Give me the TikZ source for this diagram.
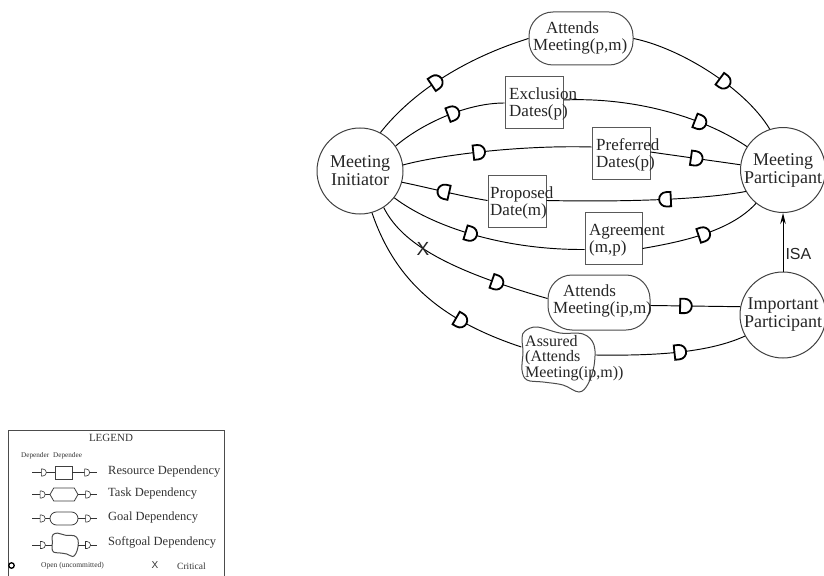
\documentclass[tikz,border=0pt]{standalone}
\usepackage{fontspec}
\setmainfont{Liberation Serif}
\newfontfamily\sansf{Liberation Sans}
\usetikzlibrary{calc,decorations.markings,arrows.meta,shapes.symbols}
\newcommand\Dmk{\draw[line width=1.8bp, fill=white, draw=black] (-4.5,-7.2) -- (-4.5,7.2) -- (0,7.2) arc[start angle=90,end angle=-90,radius=7.2] -- cycle;}
\newcommand\Dsm{\draw[line width=0.6bp, fill=white, draw=black!80] (-1.5,-3.5) -- (-1.5,3.5) -- (0,3.5) arc[start angle=90,end angle=-90,radius=3.5] -- cycle;}
\tikzset{
  conn/.style={line width=0.95bp, draw=black},
  dep/.style={conn, postaction={decorate}, decoration={markings, mark=at position #1 with {\Dmk}}},
  ldep/.style={line width=0.7bp, draw=black!80, postaction={decorate}, decoration={markings, mark=at position #1 with {\Dsm}}},
  actor/.style={circle, draw=black!75, line width=1bp, minimum size=86bp, inner sep=0pt, align=center, text=black!85, font=\fontsize{18bp}{18bp}\selectfont},
  res/.style={rectangle, draw=black!65, line width=1bp, minimum width=58bp, minimum height=52bp, inner sep=0pt},
  goal/.style={rectangle, rounded corners=24bp, draw=black!70, line width=1bp, inner sep=0pt},
  dtxt/.style={align=left, inner sep=0pt, text=black!85, font=\fontsize{17bp}{17bp}\selectfont},
  xtxt/.style={inner sep=0pt, text=black!85, font=\sansf\fontsize{19bp}{19bp}\selectfont},
  ltxt/.style={inner sep=0pt, anchor=west, text=black!80, font=\fontsize{12.5bp}{12.5bp}\selectfont},
  lsmall/.style={inner sep=0pt, text=black!80, font=\fontsize{7.2bp}{7.2bp}\selectfont},
  lshape/.style={draw=black!75, line width=0.8bp, inner sep=0pt},
  softg/.pic={\draw[line width=1bp, draw=black!70, fill=white] plot[smooth cycle, tension=0.6] coordinates {(-33,-29) (-21,-33) (2,-27) (25,-26) (36,-15) (36,6) (30,24) (21,32) (5,25) (-15,22) (-31,20) (-36,10) (-35,-8) (-36,-22)};},
}
\begin{document}
\begin{tikzpicture}[x=1bp,y=-1bp]
\fill[white] (0,0) rectangle (824,576);
\useasboundingbox (0,0) rectangle (824,576);

% actors
\node[actor] (mi) at (360,171) {Meeting\\Initiator};
\node[actor, minimum size=84bp] (mp) at (783,170) {Meeting\\Participant};
\node[actor] (ip) at (783,315) {Important\\Participant};

% dependums
\node[goal, minimum width=104bp, minimum height=53bp] (g1) at (581,38.5) {};
\node[dtxt, anchor=west] (g1T) at (533,37.5) {\hspace*{13bp}Attends\\Meeting(p,m)};
\node[res] (excl) at (534,103) {};
\node[dtxt, anchor=west] (exclT) at (509,103.5) {Exclusion\\Dates(p)};
\node[res] (pref) at (621,154) {};
\node[dtxt, anchor=west] (prefT) at (596,154.5) {Preferred\\Dates(p)};
\node[res, minimum height=51bp] (prop) at (517,201.5) {};
\node[dtxt, anchor=west] (propT) at (490,203) {Proposed\\Date(m)};
\node[res, minimum width=57bp, minimum height=51bp] (agr) at (613.5,238.5) {};
\node[dtxt, anchor=west] (agrT) at (589,240) {Agreement\\(m,p)};
\node[goal, minimum width=102bp, minimum height=55bp] (g2) at (599,302.5) {};
\node[dtxt, anchor=west] (g2T) at (553,300.5) {\hspace*{10bp}Attends\\Meeting(ip,m)};
\pic at (558,360) {softg};
\node[minimum width=73bp, minimum height=66bp, inner sep=0pt] (sg) at (558,360) {};
\node[dtxt, anchor=west, font=\fontsize{16bp}{15.5bp}\selectfont] (sgT) at (525,358) {Assured\\(Attends\\Meeting(ip,m))};

% connectors
\draw[dep=0.42] (mi.62) .. controls (410,95) and (460,60) .. (g1.west);
\draw[dep=0.6] (g1.east) .. controls (680,48) and (745,88) .. (mp.108);
\draw[dep=0.55] (mi.35) .. controls (420,125) and (465,103) .. (excl.west);
\draw[dep=0.72] ($(excl.east)+(0,-3)$) .. controls (630,97) and (700,115) .. (mp.147);
\draw[dep=0.4] (mi.8) .. controls (440,155) and (520,145) .. ($(pref.west)+(0,-7)$);
\draw[dep=0.5] ($(pref.east)+(0,-2)$) -- (mp.173);
\draw[dep=0.5] ($(prop.west)+(0,-1)$) .. controls (460,196) and (430,188) .. (mi.-15);
\draw[dep=0.4] (mp.210) .. controls (700,200) and (620,202) .. ($(prop.east)+(0,-1)$);
\draw[dep=0.42] (mi.-38) .. controls (430,225) and (500,250) .. ($(agr.west)+(0,11)$);
\draw[dep=0.5] ($(agr.east)+(0,10)$) .. controls (680,242) and (730,232) .. (mp.231);
\draw[conn, postaction={decorate}, decoration={markings,
    mark=at position 0.3 with {\node[xtxt] (xm) {X};},
    mark=at position 0.72 with {\Dmk}}]
  (mi.-57) .. controls (400,240) and (440,268) .. ($(g2.west)+(0,-4)$);
\draw[dep=0.38] ($(g2.east)+(0,3)$) -- (ip.169);
\draw[dep=0.68] (mi.-74) .. controls (395,280) and (440,320) .. ($(sg.west)+(0,-13)$);
\draw[dep=0.55] ($(sg.east)+(1,-5)$) .. controls (660,356) and (710,352) .. (ip.209);

% ISA
\draw[line width=1bp, -{Stealth[length=11bp,width=5.5bp]}] (ip.north) -- (mp.south)
  node[pos=0.3, anchor=west, inner sep=2bp, text=black!85, font=\sansf\fontsize{16bp}{16bp}\selectfont] (isa) {ISA};

% legend
\draw[line width=0.8bp, draw=black!70] (8,578) -- (8,430) -- (224,430) -- (224,578);
\node[inner sep=0pt, text=black!80, font=\fontsize{11bp}{11bp}\selectfont] (legT) at (111,438) {LEGEND};
\node[lsmall, anchor=west] (ldr) at (21,456) {Depender};
\node[lsmall, anchor=west] (lde) at (53,456) {Dependee};

\node[lshape, rectangle, minimum width=17bp, minimum height=13bp] (lr) at (63.5,472.5) {};
\coordinate (lr1) at (32,472.5);
\coordinate (lr2) at (97,472.5);
\draw[ldep=0.48] (lr1) -- (lr.west);
\draw[ldep=0.56] (lr.east) -- (lr2);
\node[ltxt] (lrT) at (108,472) {Resource Dependency};

\node[lshape, signal, signal to=east and west, signal pointer angle=120, minimum width=28bp, minimum height=13bp] (lt) at (64,494.5) {};
\coordinate (lt1) at (32,494.5);
\coordinate (lt2) at (97,494.5);
\draw[ldep=0.55] (lt1) -- (lt.west);
\draw[ldep=0.47] (lt.east) -- (lt2);
\node[ltxt] (ltT) at (108,494) {Task Dependency};

\node[lshape, rectangle, rounded corners=6.5bp, minimum width=28bp, minimum height=13bp] (lg) at (64,518.5) {};
\coordinate (lg1) at (32,518.5);
\coordinate (lg2) at (97,518.5);
\draw[ldep=0.55] (lg1) -- (lg.west);
\draw[ldep=0.47] (lg.east) -- (lg2);
\node[ltxt] (lgT) at (108,518) {Goal Dependency};

\pic[scale=0.36] at (65,545) {softg};
\node[minimum width=26bp, minimum height=24bp, inner sep=0pt] (ls) at (65,545) {};
\coordinate (ls1) at (32,545);
\coordinate (ls2) at (97,545);
\draw[ldep=0.5] (ls1) -- (ls.west);
\draw[ldep=0.47] (ls.east) -- (ls2);
\node[ltxt] (lsT) at (108,542) {Softgoal Dependency};

\node[circle, draw=black, line width=1.3bp, minimum size=5.5bp, inner sep=0pt] (lopen) at (11.5,565.5) {};
\node[lsmall, anchor=west, font=\fontsize{7.5bp}{7.5bp}\selectfont] (lopenT) at (41,566) {Open (uncommitted)};
\node[inner sep=0pt, text=black!80, font=\sansf\fontsize{10bp}{10bp}\selectfont] (lx) at (155,565) {X};
\node[inner sep=0pt, anchor=west, text=black!80, font=\fontsize{9.5bp}{9.5bp}\selectfont] (lcrit) at (177,566) {Critical};
\end{tikzpicture}
\end{document}
